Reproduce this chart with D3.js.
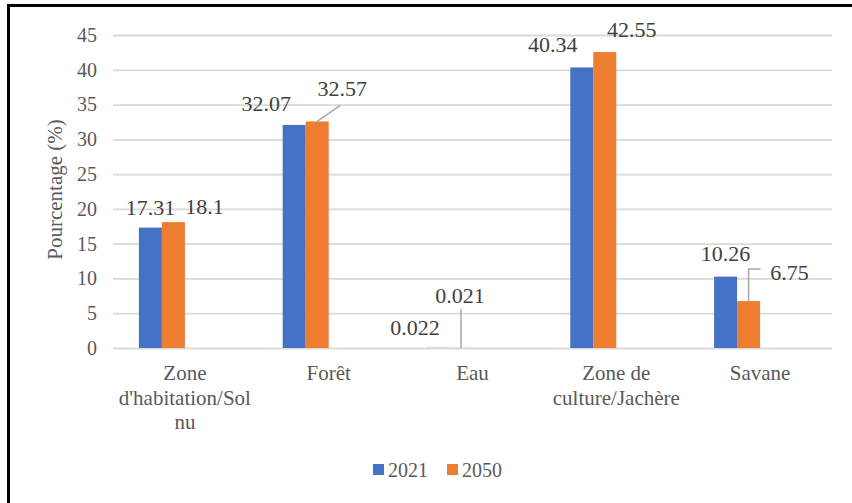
<!DOCTYPE html>
<html>
<head>
<meta charset="utf-8">
<script src="https://cdn.jsdelivr.net/npm/d3@7"></script>
<style>
  body { margin: 0; background: #fff; }
  svg, svg text { font-family: "Liberation Serif", "DejaVu Serif", "Times New Roman", serif !important; }
</style>
</head>
<body>
<div class="container"></div>
<script>
// data
const categories = ["Zone d'habitation/Sol nu", "Forêt", "Eau", "Zone de culture/Jachère", "Savane"]
const categoryLines = [["Zone", "d'habitation/Sol", "nu"], ["Forêt"], ["Eau"], ["Zone de", "culture/Jachère"], ["Savane"]]
const series = ["2021", "2050"]
const values2021 = [17.31, 32.07, 0.022, 40.34, 10.26]
const values2050 = [18.1, 32.57, 0.021, 42.55, 6.75]
const yTicks = [0, 5, 10, 15, 20, 25, 30, 35, 40, 45]

const colors = { "2021": "#4472C4", "2050": "#ED7D31" }

// label nudges (px) from the top centre of each bar, as they were dragged in the original
const labelNudge = {
    "2021": [[0, -13], [-28, -14], [-23, -13], [-29, -15], [0, -16]],
    "2050": [[31, -8], [25, -25], [-1, -45], [27, -15], [41, -21]]
}

const w = 852
const h = 503
const plotLeft = 113, plotRight = 832, plotTop = 35, plotBottom = 348
const textColor = '#595959'

const svg = d3.select(".container")
    .append("svg")
    .attr("width", w)
    .attr("height", h)

svg.append("rect").attr("width", w).attr("height", h).attr("fill", "#fff")

const x0 = d3.scaleBand().domain(categories).range([plotLeft, plotRight]).paddingInner(0.36).paddingOuter(0.18)
// Excel kept room for two empty series, so the pair sits left of the category centre
const x1 = d3.scaleBand().domain(series).range([0, x0.bandwidth() / 2])
const y = d3.scaleLinear().domain([0, 45]).range([plotBottom, plotTop])

// gridlines + y labels
const yAxis = svg.append("g")
    .attr("transform", "translate(" + plotLeft + ",0)")
    .call(d3.axisLeft(y).tickValues(yTicks).tickSize(-(plotRight - plotLeft)).tickPadding(16))
yAxis.attr("font-family", null)
yAxis.select(".domain").remove()
yAxis.selectAll("line").attr("stroke", "#d9d9d9").attr("stroke-width", 1.8)
yAxis.selectAll("text")
    .attr("fill", textColor)
    .style("font-size", "20px")

// x axis labels (wrapped like the original)
const xAxis = svg.append("g")
    .attr("transform", "translate(0," + plotBottom + ")")
    .call(d3.axisBottom(x0).tickSize(0).tickFormat(""))
xAxis.attr("font-family", null)
xAxis.select(".domain").remove()
xAxis.selectAll(".tick text").each(function (d, i) {
    const t = d3.select(this)
        .attr("fill", textColor)
        .attr("y", 0)
        .attr("dy", null)
        .style("font-size", "21px")
    categoryLines[i].forEach((line, k) => {
        t.append("tspan").attr("x", 0).attr("y", 32 + k * 24.5).text(line)
    })
})

// bars
const rows = categories.map((c, i) => ({ cat: c, i: i, "2021": values2021[i], "2050": values2050[i] }))

const groups = svg.selectAll("g.grp")
    .data(rows)
    .enter()
    .append("g")
    .attr("class", "grp")
    .attr("transform", (d) => "translate(" + x0(d.cat) + ",0)")

groups.selectAll("rect")
    .data((d) => series.map((s) => ({ s: s, v: d[s], i: d.i })))
    .enter()
    .append("rect")
    .attr("x", (d) => x1(d.s))
    .attr("y", (d) => y(d.v))
    .attr("width", x1.bandwidth())
    .attr("height", (d) => y(0) - y(d.v))
    .attr("fill", (d) => colors[d.s])

// leader lines for the labels that were pulled away
const leader = d3.line()
const barTop = (s, i) => [x0(categories[i]) + x1(s) + x1.bandwidth() / 2, y(s === "2021" ? values2021[i] : values2050[i])]
const leaders = [
    [barTop("2050", 1), [barTop("2050", 1)[0] + 23, barTop("2050", 1)[1] - 16]],
    [barTop("2050", 2), [barTop("2050", 2)[0], barTop("2050", 2)[1] - 39]],
    [barTop("2050", 4), [barTop("2050", 4)[0], barTop("2050", 4)[1] - 32], [barTop("2050", 4)[0] + 12, barTop("2050", 4)[1] - 32]]
]
svg.selectAll("path.leader")
    .data(leaders)
    .enter()
    .append("path")
    .attr("class", "leader")
    .attr("d", (d) => leader(d))
    .attr("fill", "none")
    .attr("stroke", "#a6a6a6")
    .attr("stroke-width", 1.5)

// value labels
series.forEach((s) => {
    const vals = s === "2021" ? values2021 : values2050
    svg.selectAll("text.lbl" + s)
        .data(vals)
        .enter()
        .append("text")
        .attr("class", "lbl" + s)
        .attr("x", (d, i) => barTop(s, i)[0] + labelNudge[s][i][0])
        .attr("y", (d, i) => barTop(s, i)[1] + labelNudge[s][i][1])
        .attr("text-anchor", "middle")
        .attr("fill", "#404040")
        .style("font-size", "22px")
        .text((d) => d)
})

// y axis title
svg.append("text")
    .attr("transform", "rotate(-90)")
    .attr("x", -(plotTop + plotBottom) / 2 + 2)
    .attr("y", 62)
    .attr("text-anchor", "middle")
    .attr("fill", textColor)
    .style("font-size", "21px")
    .text("Pourcentage (%)")

// legend
const legend = svg.append("g").attr("transform", "translate(373,464)")
const legendItem = legend.selectAll("g")
    .data(series)
    .enter()
    .append("g")
    .attr("transform", (d, i) => "translate(" + (i * 74) + ",0)")
legendItem.append("rect")
    .attr("width", 11)
    .attr("height", 11)
    .attr("fill", (d) => colors[d])
legendItem.append("text")
    .attr("x", 15)
    .attr("y", 13)
    .attr("fill", textColor)
    .style("font-size", "20px")
    .text((d) => d)

// frame: only the top and left edges show in the original crop
svg.append("path")
    .attr("d", "M7,5.5H" + w + "M8.5,4V" + h)
    .attr("stroke", "#000")
    .attr("stroke-width", 3)
    .attr("fill", "none")
</script>
</body>
</html>
